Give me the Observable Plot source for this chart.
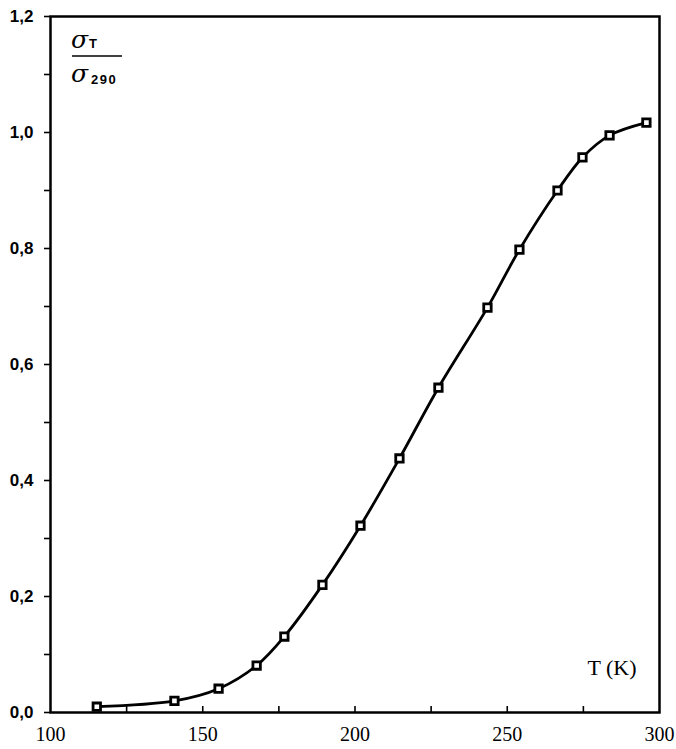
<!DOCTYPE html>
<html>
<head>
<meta charset="utf-8">
<script src="https://cdn.jsdelivr.net/npm/d3@7"></script>
<script src="https://cdn.jsdelivr.net/npm/@observablehq/plot@0.6"></script>
<style>
  html, body { margin: 0; padding: 0; background: #fff; }
</style>
</head>
<body>
<div id="chart"></div>
<script>
// Data
const temperature = [115.2, 140.7, 155.2, 167.7, 176.8, 189.3, 201.8, 214.6, 227.4, 243.5, 254.0, 266.5, 274.7, 283.6, 295.7];
const sigmaRatio  = [0.010, 0.020, 0.041, 0.081, 0.131, 0.220, 0.322, 0.438, 0.560, 0.698, 0.798, 0.900, 0.957, 0.995, 1.017];
const xTickLabels = [100, 150, 200, 250, 300];
const xTicksAll   = [125, 150, 175, 200, 225, 250, 275];
const yTicksAll   = [0, 0.1, 0.2, 0.3, 0.4, 0.5, 0.6, 0.7, 0.8, 0.9, 1.0, 1.1, 1.2];
const yTickLabels = [0, 0.2, 0.4, 0.6, 0.8, 1.0, 1.2];
const xLabelText  = "T (K)";

const data = temperature.map((t, i) => ({T: t, s: sigmaRatio[i]}));
const W = 676, H = 749;
const mL = 50, mR = 17, mT = 16, mB = 37;
const innerH = H - mT - mB;
const fmt = d => d.toFixed(1).replace(".", ",");

const chart = Plot.plot({
  width: W, height: H,
  marginLeft: mL, marginRight: mR, marginTop: mT, marginBottom: mB,
  x: {domain: [100, 300]},
  y: {domain: [0, 1.2]},
  style: {background: "#fff", color: "#000"},
  marks: [
    Plot.frame({stroke: "#000", strokeWidth: 2.5}),
    Plot.axisX(xTickLabels, {tickSize: 0, tickPadding: 14, label: null,
      fontFamily: "Liberation Serif", fontSize: 20}),
    Plot.tickX(xTicksAll, {x: d => d, insetTop: innerH - 6, stroke: "#000", strokeWidth: 1.6}),
    Plot.axisY(yTicksAll, {tickSize: 6, tickPadding: 0, tickFormat: () => "", label: null, strokeWidth: 1.6}),
    Plot.axisY(yTickLabels, {tickSize: 0, tickPadding: 17, tickFormat: fmt, label: null,
      fontFamily: "Liberation Sans", fontSize: 17, fontWeight: 600}),
    Plot.line(data, {x: "T", y: "s", curve: "catmull-rom", stroke: "#000", strokeWidth: 2.8}),
    Plot.dot(data, {x: "T", y: "s", symbol: "square", r: 4.2, stroke: "#000", strokeWidth: 2.8, fill: "#fff"}),
    Plot.text([xLabelText], {frameAnchor: "bottom-right", dx: -23, dy: -38, text: d => d,
      fontFamily: "Liberation Serif", fontSize: 22, textAnchor: "end"})
  ]
});

// fraction label σ_T / σ_290
const svg = d3.select(chart);
const g = svg.append("g").attr("fill", "#000");
function addText(x, y, str, family, size, style, weight, spacing) {
  g.append("text").attr("x", x).attr("y", y).attr("text-anchor", "start")
    .attr("font-family", family).attr("font-size", size)
    .attr("font-style", style).attr("font-weight", weight)
    .attr("letter-spacing", spacing || 0).text(str);
}
addText(71, 48, "σ", "DejaVu Serif", 25, "italic", "normal");
addText(89, 48, "T", "Liberation Sans", 13, "normal", "bold");
g.append("line").attr("x1", 72).attr("x2", 122).attr("y1", 56).attr("y2", 56)
  .attr("stroke", "#000").attr("stroke-width", 1.6);
addText(71, 82, "σ", "DejaVu Serif", 25, "italic", "normal");
addText(91, 84, "290", "Liberation Sans", 13, "normal", "bold", 1.5);

document.getElementById("chart").appendChild(chart);
</script>
</body>
</html>
